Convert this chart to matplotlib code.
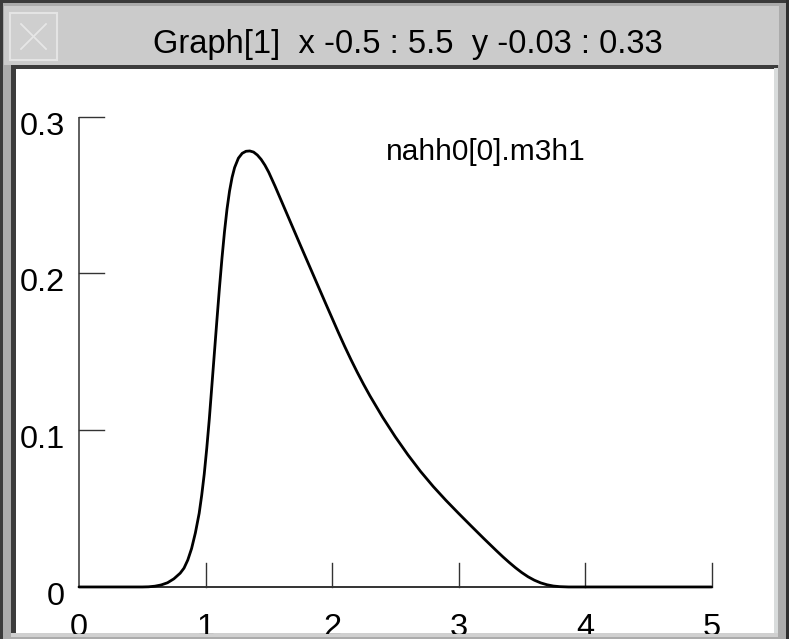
import matplotlib
matplotlib.use("Agg")
import matplotlib.pyplot as plt
from matplotlib.patches import Rectangle
from matplotlib.lines import Line2D

# ---- data -------------------------------------------------------------
curve_x = [0.00, 0.50, 0.55, 0.60, 0.65, 0.70, 0.75, 0.80, 0.83, 0.86,
           0.89, 0.92, 0.95, 0.97, 0.99, 1.01, 1.03, 1.05, 1.07, 1.09,
           1.11, 1.13, 1.15, 1.17, 1.19, 1.21, 1.23, 1.26, 1.29, 1.32,
           1.35, 1.38, 1.41, 1.44, 1.47, 1.50, 1.55, 1.60, 1.65, 1.70,
           1.75, 1.80, 1.85, 1.90, 1.95, 2.00, 2.05, 2.10, 2.15, 2.20,
           2.25, 2.30, 2.40, 2.50, 2.60, 2.70, 2.80, 2.90, 3.00, 3.10,
           3.20, 3.30, 3.35, 3.40, 3.45, 3.50, 3.55, 3.60, 3.65, 3.70,
           3.75, 3.80, 3.87, 5.00]
curve_y = [0.0, 0.0, 0.0001, 0.0005, 0.0013, 0.0027, 0.0052, 0.0088, 0.0120, 0.0172,
           0.0245, 0.0345, 0.0470, 0.0585, 0.0720, 0.0885, 0.1070, 0.1280, 0.1490, 0.1700,
           0.1905, 0.2095, 0.2265, 0.2410, 0.2525, 0.2612, 0.2675, 0.2735, 0.2766, 0.2779,
           0.2781, 0.2774, 0.2755, 0.2727, 0.2690, 0.2645, 0.2556, 0.2462, 0.2368, 0.2274,
           0.2180, 0.2087, 0.1994, 0.1901, 0.1808, 0.1716, 0.1624, 0.1535, 0.1450, 0.1369,
           0.1292, 0.1219, 0.1083, 0.0958, 0.0843, 0.0737, 0.0641, 0.0553, 0.0470, 0.0389,
           0.0309, 0.0231, 0.0193, 0.0157, 0.0123, 0.0092, 0.0065, 0.0043, 0.0026, 0.0014,
           0.0006, 0.0002, 0.0, 0.0]

x_ticks = [0, 1, 2, 3, 4, 5]
x_tick_labels = ["0", "1", "2", "3", "4", "5"]
y_ticks = [0.0, 0.1, 0.2, 0.3]
y_tick_labels = ["0", "0.1", "0.2", "0.3"]

series_label = "nahh0[0].m3h1"
window_title = "Graph[1]  x -0.5 : 5.5  y -0.03 : 0.33"
x_view = (-0.5, 5.5)
y_view = (-0.03, 0.33)

# ---- figure / window chrome ------------------------------------------
W, H = 789, 639
fig = plt.figure(figsize=(W / 100, H / 100), dpi=100)
plt.rcParams["font.family"] = ["Liberation Sans", "DejaVu Sans"]


def box(x0, y0, x1, y1, color, z=0):
    """Rectangle given in pixel coordinates with the origin at top-left."""
    fig.patches.append(Rectangle((x0 / W, 1 - y1 / H), (x1 - x0) / W, (y1 - y0) / H,
                                 transform=fig.transFigure, facecolor=color,
                                 edgecolor="none", zorder=z))


def seg(x0, y0, x1, y1, color, lw, z=1):
    fig.lines.append(Line2D([x0 / W, x1 / W], [1 - y0 / H, 1 - y1 / H],
                            transform=fig.transFigure, color=color, lw=lw,
                            zorder=z))


box(0, 0, W, H, "#ababab", 0)
box(0, 0, W, 3, "#3a3a3a", 1)          # top frame edge
box(0, 0, 3, H, "#3a3a3a", 1)          # left frame edge
box(786, 0, W, H, "#2e2e2e", 1)        # right frame edge
box(4, 6, 779, 65, "#cbcbcb", 2)       # title bar
box(11, 65, 778, 69, "#3c3c3c", 2)     # shadow under title bar
box(11, 65, 16, 634, "#3c3c3c", 2)     # shadow on left of canvas
box(774, 68, 778, 634, "#d9dcdc", 2)   # light edge right
box(11, 633, 778, 637, "#d0d0d0", 2)   # light edge bottom
box(16, 69, 774, 633, "white", 3)      # drawing canvas

# close box in the title bar
fig.patches.append(Rectangle((10 / W, 1 - 60 / H), 47 / W, 47 / H,
                             transform=fig.transFigure, facecolor="#cfcfcf",
                             edgecolor="#e4e4e4", lw=1.5, zorder=4))
seg(21, 24, 46, 49, "#e6e6e6", 1.3, 5)
seg(46, 24, 21, 49, "#e6e6e6", 1.3, 5)

fig.text(408 / W, 1 - 53 / H, window_title, ha="center", va="baseline",
         fontsize=23.5, color="black", zorder=6)

# ---- plotting area ---------------------------------------------------
ax_left, ax_right = 15.75, 774.75
ax_top, ax_bottom = 69.6, 634.0
ax = fig.add_axes([ax_left / W, 1 - ax_bottom / H,
                   (ax_right - ax_left) / W, (ax_bottom - ax_top) / H])
ax.set_xlim(*x_view)
ax.set_ylim(*y_view)
ax.set_axis_off()
ax.patch.set_alpha(0)
ax.set_zorder(10)

axis_color = "#333333"
# axis lines
ax.plot([x_ticks[0], x_ticks[-1]], [0, 0], color=axis_color, lw=1.4,
        solid_capstyle="butt")
ax.plot([0, 0], [0, y_ticks[-1]], color=axis_color, lw=1.1,
        solid_capstyle="butt")
# tick marks
for xt in x_ticks[1:]:
    ax.plot([xt, xt], [0, 0.0155], color=axis_color, lw=1.0)
for yt in y_ticks[1:]:
    ax.plot([0, 0.2], [yt, yt], color=axis_color, lw=1.0)

# tick labels (the x labels run past the canvas edge and are clipped)
for xt, lab in zip(x_ticks, x_tick_labels):
    ax.text(xt, -0.0313, lab, ha="center", va="baseline", fontsize=23.4,
            clip_on=True)
for yt, lab in zip(y_ticks, y_tick_labels):
    ax.text(-0.11, yt - 0.0115, lab, ha="right", va="baseline", fontsize=23.4,
            clip_on=True)

# data curve
ax.plot(curve_x, curve_y, color="black", lw=2.0, solid_joinstyle="round",
        solid_capstyle="round")

ax.text(2.43, 0.2725, series_label, ha="left", va="baseline", fontsize=21.5)

fig.savefig("out.png", dpi=100)
